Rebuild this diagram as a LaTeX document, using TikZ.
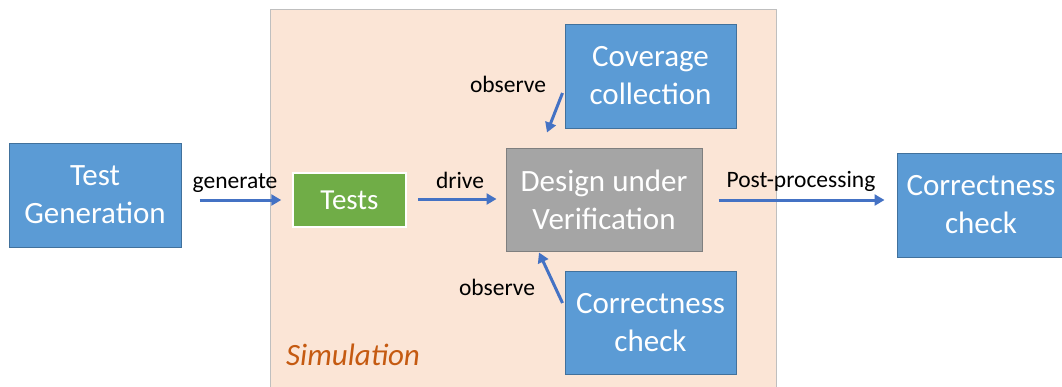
\documentclass[tikz,border=0pt]{standalone}
\usepackage{fontspec}
\setmainfont{Carlito}
\usetikzlibrary{arrows.meta}
\definecolor{boxblue}{HTML}{5B9BD5}
\definecolor{boxblueedge}{HTML}{41719C}
\definecolor{boxgray}{HTML}{A5A5A5}
\definecolor{boxgrayedge}{HTML}{7F7F7F}
\definecolor{boxgreen}{HTML}{70AD47}
\definecolor{simfill}{HTML}{FBE5D6}
\definecolor{simedge}{HTML}{BFBFBF}
\definecolor{simtext}{HTML}{C55A11}
\definecolor{flowblue}{HTML}{4472C4}
\tikzset{
  block/.style={draw=boxblueedge, fill=boxblue, line width=1pt, text=white,
    align=center, inner sep=0pt, font=\fontsize{31}{38}\selectfont},
  testsbox/.style={draw=white, fill=boxgreen, line width=1.5pt, text=white,
    align=center, inner sep=0pt, font=\fontsize{29}{35}\selectfont},
  dutbox/.style={draw=boxgrayedge, fill=boxgray, line width=1pt, text=white,
    align=center, inner sep=0pt, font=\fontsize{31}{38}\selectfont},
  flow/.style={draw=flowblue, line width=3pt, -{Triangle[length=10pt,width=11pt]}},
  lbl/.style={anchor=base, inner sep=0pt, font=\fontsize{23.5}{28}\selectfont}
}
\begin{document}
\begin{tikzpicture}[x=1pt,y=-1pt]
\useasboundingbox (0,0) rectangle (1062,386);
% simulation area
\fill[simfill] (270,9) rectangle (776,390);
\draw[simedge, line width=1pt] (270,390) -- (270,9) -- (776,9) -- (776,390);
\node[anchor=base west, inner sep=0pt, text=simtext, font=\itshape\fontsize{31}{37}\selectfont] (sim) at (286,365) {Simulation};
% blocks
\node[block, minimum width=172pt, minimum height=104pt] (tg) at (95,195) {Test\\Generation};
\node[testsbox, minimum width=113pt, minimum height=54pt] (tests) at (349.5,200) {Tests};
\node[dutbox, minimum width=196pt, minimum height=103pt] (duv) at (604,199.5) {Design under\\Verification};
\node[block, minimum width=171pt, minimum height=104pt] (cov) at (650.5,76) {Coverage\\collection};
\node[block, minimum width=171pt, minimum height=103pt] (chk) at (650.5,322.5) {Correctness\\check};
\node[block, minimum width=168pt, minimum height=104pt] (post) at (981,205) {Correctness\\check};
% connectors
\draw[flow] ([xshift=18pt,yshift=-5pt]tg.east) -- ([xshift=-11pt]tests.west);
\draw[flow] ([xshift=11pt,yshift=1pt]tests.east) -- ([xshift=-9pt,yshift=0.5pt]duv.west);
\draw[flow] ([xshift=16pt,yshift=-0.5pt]duv.east) -- ([xshift=-12pt,yshift=5pt]post.west);
\draw[flow] ([xshift=-2pt,yshift=-17pt]cov.west) -- ([xshift=-57pt,yshift=15pt]duv.north);
\draw[flow] ([xshift=-2pt,yshift=19.5pt]chk.west) -- ([xshift=-65pt,yshift=-1pt]duv.south);
% connector labels
\node[lbl] (lgen) at (235,188) {generate};
\node[lbl] (ldrive) at (460,188) {drive};
\node[lbl] (lpost) at (801,187) {Post-processing};
\node[lbl] (lobs1) at (508,92) {observe};
\node[lbl] (lobs2) at (497,295) {observe};
\end{tikzpicture}
\end{document}
